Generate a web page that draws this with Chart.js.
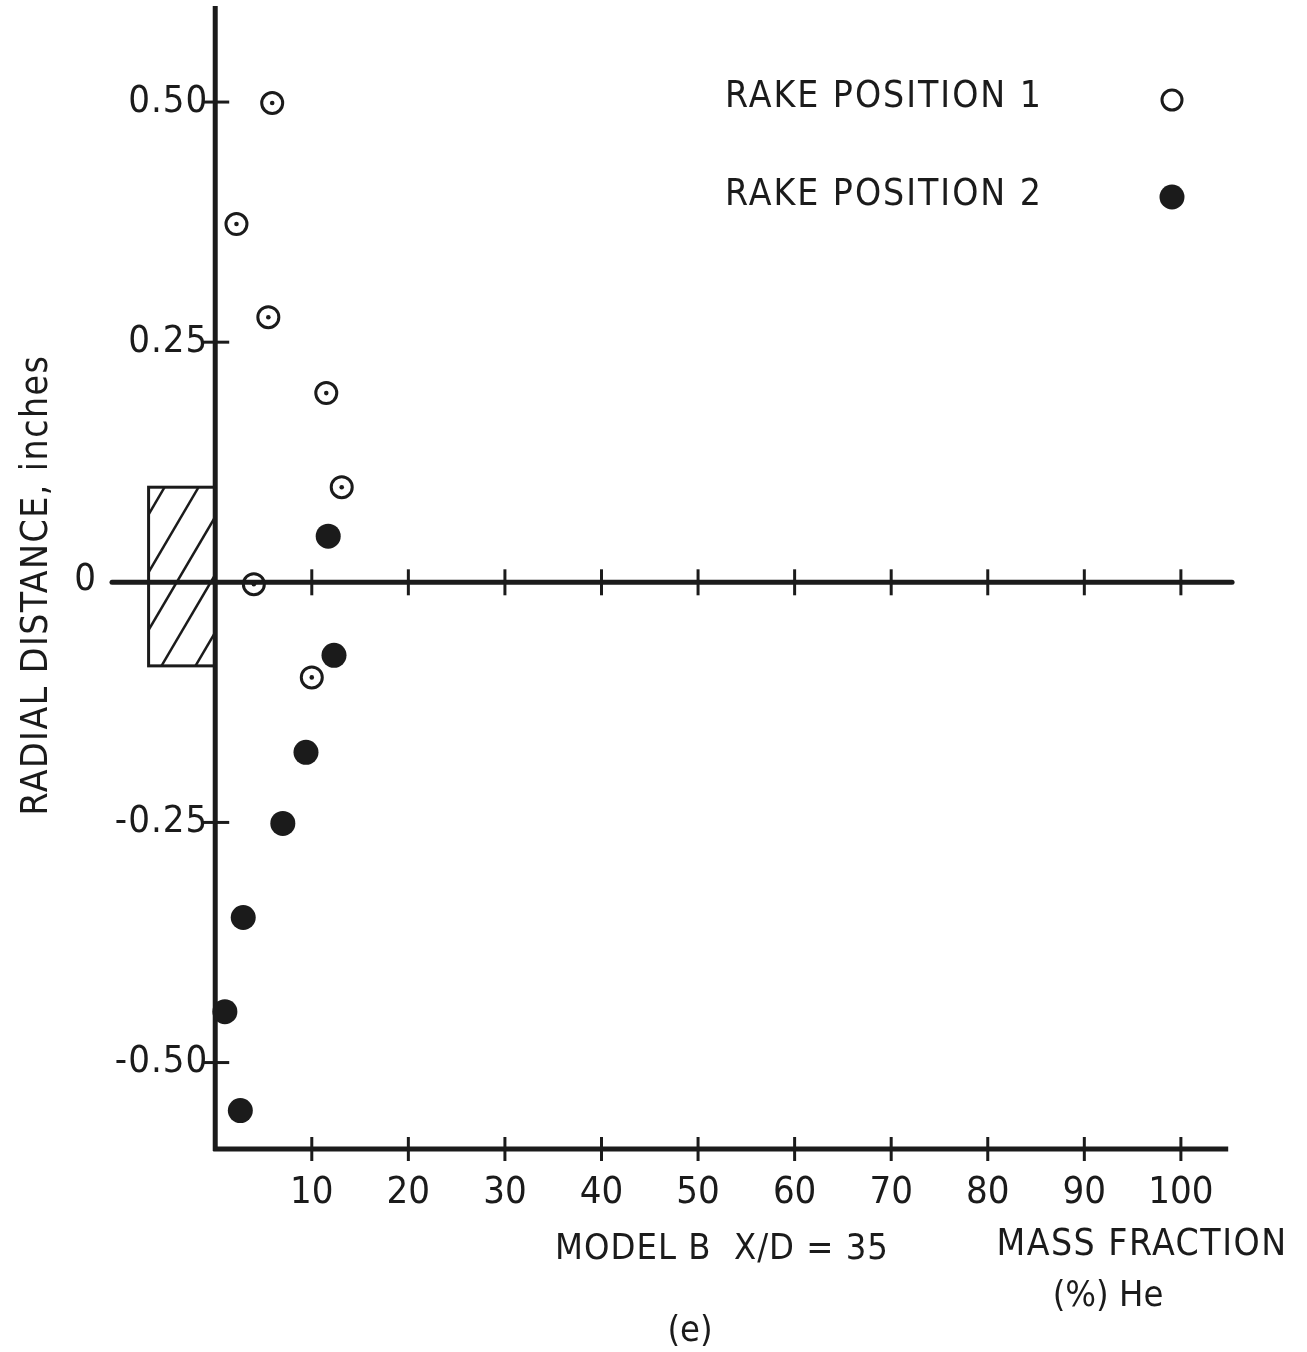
<!DOCTYPE html>
<html>
<head>
<meta charset="utf-8">
<script src="https://cdn.jsdelivr.net/npm/chart.js@4.4.1/dist/chart.umd.min.js"></script>
<style>
    html, body { margin: 0; padding: 0; background: #fff; }
    #wrap { width: 1307px; height: 1352px; }
</style>
</head>
<body>
<div id="wrap"><canvas id="chart" width="1307" height="1352"></canvas></div>
<script>
'use strict';

// rake position 1 (open symbols): mass fraction (% He) vs radial distance (in.)
const rake1X = [5.9, 2.2, 5.5, 11.5, 13.1, 4.0, 10.0];
const rake1Y = [0.499, 0.373, 0.276, 0.197, 0.099, -0.002, -0.099];

// rake position 2 (filled symbols)
const rake2X = [11.7, 12.3, 9.4, 7.0, 2.9, 1.0, 2.6];
const rake2Y = [0.048, -0.076, -0.177, -0.251, -0.349, -0.447, -0.550];

const seriesLabels = ['RAKE POSITION 1', 'RAKE POSITION 2'];

const xTicks = [10, 20, 30, 40, 50, 60, 70, 80, 90, 100];
const yTicks = [0.5, 0.25, 0, -0.25, -0.5];
const yTickLabels = ['0.50', '0.25', '0', '-0.25', '-0.50'];

// nozzle outline (hatched box left of the axis)
const nozzleX = [-6.9, 0];
const nozzleY = [-0.087, 0.099];

const INK = '#1b1b1b';
const FONT = '"DejaVu Sans Condensed", "Liberation Sans Narrow", "DejaVu Sans", sans-serif';

function text(ctx, str, x, y, size, align, spacing) {
    ctx.save();
    ctx.font = size + 'px ' + FONT;
    ctx.fillStyle = INK;
    ctx.textAlign = align || 'center';
    ctx.textBaseline = 'middle';
    ctx.letterSpacing = (spacing || 0) + 'px';
    ctx.fillText(str, x, y);
    ctx.restore();
}

function line(ctx, x1, y1, x2, y2, width) {
    ctx.beginPath();
    ctx.lineWidth = width;
    ctx.moveTo(x1, y1);
    ctx.lineTo(x2, y2);
    ctx.stroke();
}

const paperPlugin = {
    id: 'paper',
    beforeDatasetsDraw(chart) {
        let ctx = chart.ctx;
        let sx = chart.scales.x;
        let sy = chart.scales.y;
        let x0 = sx.getPixelForValue(0);
        let y0 = sy.getPixelForValue(0);
        ctx.save();
        ctx.strokeStyle = INK;
        ctx.lineCap = 'butt';

        // hatched nozzle box
        let bl = sx.getPixelForValue(nozzleX[0]);
        let br = sx.getPixelForValue(nozzleX[1]);
        let bt = sy.getPixelForValue(nozzleY[1]);
        let bb = sy.getPixelForValue(nozzleY[0]);
        ctx.lineWidth = 3;
        ctx.strokeRect(bl, bt, br - bl, bb - bt);
        ctx.save();
        ctx.beginPath();
        ctx.rect(bl, bt, br - bl, bb - bt);
        ctx.clip();
        for (let k = -5; k < 8; k++) {
            let xs = bl + 16 + k * 34;
            line(ctx, xs, bt, xs - (bb - bt) / 1.7, bb, 2.5);
        }
        ctx.restore();

        // vertical axis
        line(ctx, x0, sy.top, x0, sy.bottom + 2, 5);
        yTicks.forEach((v, i) => {
            let py = sy.getPixelForValue(v);
            if (v !== 0) {
                line(ctx, x0 - 13, py, x0 + 14, py, 3);
                text(ctx, yTickLabels[i], x0 - 7, py, 38, 'right', 1);
            }
        });
        text(ctx, '0', 85, y0 - 2, 38, 'center');

        // bottom axis
        let yb = sy.bottom;
        line(ctx, x0 - 2, yb, sx.getPixelForValue(104.9), yb, 5);
        // zero line
        ctx.lineCap = 'round';
        line(ctx, sx.left + 3, y0, sx.getPixelForValue(105.3), y0, 5);
        ctx.lineCap = 'butt';
        xTicks.forEach(v => {
            let px = sx.getPixelForValue(v);
            line(ctx, px, yb - 12, px, yb + 12, 3);
            line(ctx, px, y0 - 13, px, y0 + 13, 3);
            text(ctx, String(v), px, yb + 44, 38, 'center');
        });
        ctx.restore();
    },
    afterDatasetsDraw(chart) {
        let ctx = chart.ctx;
        ctx.save();
        // centre dots of the open symbols
        ctx.fillStyle = INK;
        chart.getDatasetMeta(0).data.forEach(pt => {
            ctx.beginPath();
            ctx.arc(pt.x, pt.y, 2.3, 0, Math.PI * 2);
            ctx.fill();
        });

        // key
        text(ctx, seriesLabels[0], 725, 97, 37, 'left', 2);
        text(ctx, seriesLabels[1], 725, 195, 37, 'left', 2);
        ctx.strokeStyle = INK;
        ctx.lineWidth = 3;
        ctx.beginPath();
        ctx.arc(1172, 100, 10, 0, Math.PI * 2);
        ctx.stroke();
        ctx.beginPath();
        ctx.arc(1172, 197, 12.5, 0, Math.PI * 2);
        ctx.fill();

        // titles
        ctx.save();
        ctx.translate(37, 585);
        ctx.rotate(-Math.PI / 2);
        text(ctx, 'RADIAL DISTANCE, inches', 0, 0, 37, 'center', 1.5);
        ctx.restore();
        text(ctx, 'MODEL B  X/D = 35', 722, 1250, 36, 'center', 1);
        text(ctx, 'MASS FRACTION', 1142, 1245, 37, 'center', 1.5);
        text(ctx, '(%) He', 1108, 1297, 36, 'center');
        text(ctx, '(e)', 690, 1332, 36, 'center');
        ctx.restore();
    }
};

new Chart(document.getElementById('chart'), {
    type: 'scatter',
    data: {
        datasets: [
            {
                label: seriesLabels[0],
                data: rake1X.map((x, i) => ({ x: x, y: rake1Y[i] })),
                pointStyle: 'circle',
                pointRadius: 10.5,
                pointBorderWidth: 3,
                pointBorderColor: INK,
                pointBackgroundColor: 'rgba(0,0,0,0)'
            },
            {
                label: seriesLabels[1],
                data: rake2X.map((x, i) => ({ x: x, y: rake2Y[i] })),
                pointStyle: 'circle',
                pointRadius: 12.5,
                pointBorderWidth: 0,
                pointBackgroundColor: INK
            }
        ]
    },
    options: {
        responsive: false,
        animation: false,
        events: [],
        layout: { autoPadding: false, padding: { left: 109, right: 73, top: 6, bottom: 203 } },
        plugins: { legend: { display: false }, tooltip: { enabled: false } },
        scales: {
            x: { type: 'linear', min: -11, max: 105.5, display: false },
            y: { type: 'linear', min: -0.59, max: 0.6, display: false }
        }
    },
    plugins: [paperPlugin]
});
</script>
</body>
</html>
